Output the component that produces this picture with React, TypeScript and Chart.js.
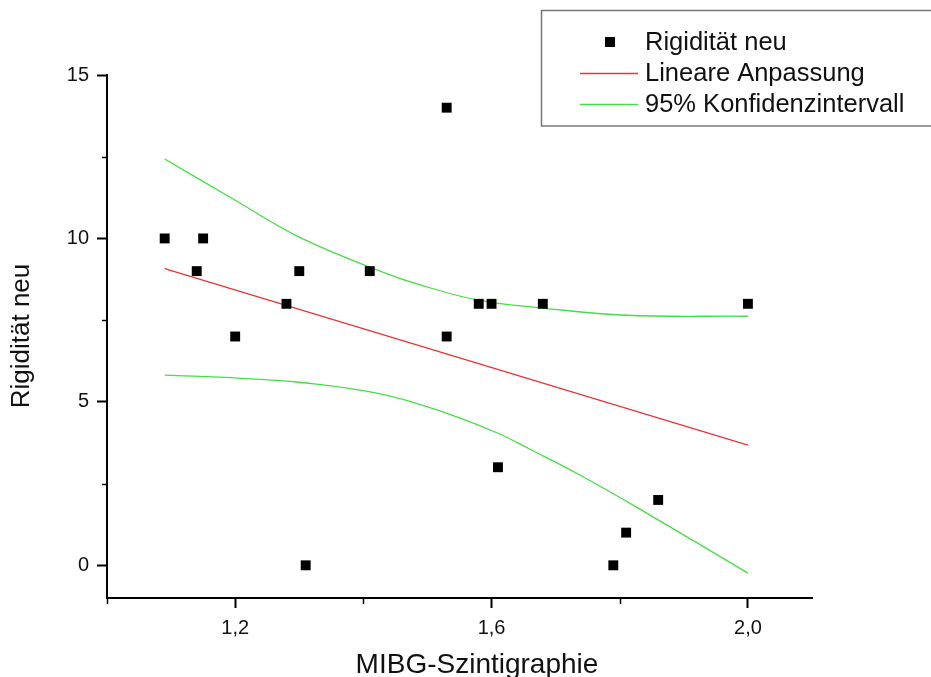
import React, { useEffect, useRef } from "react";
import { Chart, registerables } from "chart.js";

Chart.register(...registerables);

// ---- data ----
const mibg = [1.09, 1.14, 1.15, 1.2, 1.28, 1.3, 1.31, 1.41, 1.53, 1.53, 1.58, 1.6, 1.61, 1.68, 1.79, 1.81, 1.86, 2.0];
const rigiditaet = [10, 9, 10, 7, 8, 9, 0, 9, 14, 7, 8, 8, 3, 8, 0, 1, 2, 8];

const fitX = [1.09, 2.0];
const fitY = [9.08, 3.68];

const upperX = [1.09, 1.2, 1.3, 1.43, 1.49, 1.58, 1.68, 1.81, 2.0];
const upperY = [12.43, 11.17, 10.04, 8.97, 8.57, 8.11, 7.87, 7.65, 7.62];

const lowerX = [1.09, 1.21, 1.3, 1.43, 1.53, 1.61, 1.66, 1.74, 1.84, 2.0];
const lowerY = [5.82, 5.72, 5.6, 5.23, 4.65, 4.04, 3.55, 2.74, 1.62, -0.24];

const xTicks = [1.0, 1.2, 1.4, 1.6, 1.8, 2.0];
const xLabelled = [1.2, 1.6, 2.0];
const yTicks = [0, 2.5, 5, 7.5, 10, 12.5, 15];
const yLabelled = [0, 5, 10, 15];

const seriesLabels = ["Rigidität neu", "Lineare Anpassung", "95% Konfidenzintervall"];
const xTitle = "MIBG-Szintigraphie";
const yTitle = "Rigidität neu";

const FONT = "'Liberation Sans', Arial, sans-serif";
const RED = "rgb(232,52,52)";
const GREEN = "rgb(70,222,70)";

const toPts = (xs: number[], ys: number[]) => xs.map((x, i) => ({ x, y: ys[i] }));
const isIn = (arr: number[], v: number) => arr.some((a) => Math.abs(a - v) < 1e-6);

const overlayPlugin = {
  id: "overlay",
  afterDraw(chart: any) {
    const ctx = chart.ctx as CanvasRenderingContext2D;
    const xs = chart.scales.x;
    const ys = chart.scales.y;
    const area = chart.chartArea;
    ctx.save();
    // minor ticks
    ctx.strokeStyle = "#000";
    ctx.lineWidth = 1.5;
    xTicks.forEach((v) => {
      if (isIn(xLabelled, v)) return;
      const px = Math.round(xs.getPixelForValue(v)) + 0.5;
      ctx.beginPath();
      ctx.moveTo(px, area.bottom);
      ctx.lineTo(px, area.bottom + 6);
      ctx.stroke();
    });
    yTicks.forEach((v) => {
      if (isIn(yLabelled, v)) return;
      const py = Math.round(ys.getPixelForValue(v)) + 0.5;
      ctx.beginPath();
      ctx.moveTo(area.left, py);
      ctx.lineTo(area.left - 5, py);
      ctx.stroke();
    });

    // axis titles
    ctx.fillStyle = "#111";
    ctx.font = `28px ${FONT}`;
    ctx.textAlign = "center";
    ctx.textBaseline = "middle";
    ctx.fillText(xTitle, 477, 665);
    ctx.save();
    ctx.translate(22, 336);
    ctx.rotate(-Math.PI / 2);
    ctx.font = `26px ${FONT}`;
    ctx.fillText(yTitle, 0, 0);
    ctx.restore();

    // legend box
    ctx.fillStyle = "#fff";
    ctx.fillRect(541, 10, 400, 116);
    ctx.strokeStyle = "#777";
    ctx.lineWidth = 1.5;
    ctx.strokeRect(541.5, 10.5, 400, 115.5);
    const rows = [42, 73, 104];
    const ds = chart.data.datasets;
    ctx.textAlign = "left";
    ctx.font = `25.5px ${FONT}`;
    // row 1: marker
    ctx.fillStyle = "#000";
    ctx.fillRect(605, rows[0] - 5, 10, 10);
    // rows 2, 3: lines
    [1, 2].forEach((di, k) => {
      ctx.strokeStyle = ds[di].borderColor;
      ctx.lineWidth = 1.3;
      ctx.beginPath();
      ctx.moveTo(580, rows[k + 1] + 0.5);
      ctx.lineTo(638, rows[k + 1] + 0.5);
      ctx.stroke();
    });
    ctx.fillStyle = "#111";
    seriesLabels.forEach((t, i) => ctx.fillText(t, 645, rows[i] + 1));
    ctx.restore();
  },
};

export default function App() {
  const ref = useRef<HTMLCanvasElement | null>(null);
  useEffect(() => {
    if (!ref.current) return;
    const chart = new Chart(ref.current, {
      type: "scatter",
      data: {
        datasets: [
          {
            label: seriesLabels[0],
            data: toPts(mibg, rigiditaet),
            pointStyle: "rect",
            pointRadius: 7,
            pointBackgroundColor: "#000",
            pointBorderColor: "#000",
            pointBorderWidth: 0,
            showLine: false,
            order: 0,
          },
          {
            label: seriesLabels[1],
            data: toPts(fitX, fitY),
            showLine: true,
            borderColor: RED,
            borderWidth: 1.3,
            pointRadius: 0,
            order: 1,
          },
          {
            label: seriesLabels[2],
            data: toPts(upperX, upperY),
            showLine: true,
            borderColor: GREEN,
            borderWidth: 1.3,
            pointRadius: 0,
            tension: 0.4,
            order: 2,
          },
          {
            label: seriesLabels[2] + " ",
            data: toPts(lowerX, lowerY),
            showLine: true,
            borderColor: GREEN,
            borderWidth: 1.3,
            pointRadius: 0,
            tension: 0.4,
            order: 2,
          },
        ],
      },
      options: {
        animation: false,
        responsive: false,
        devicePixelRatio: 1,
        layout: { padding: { left: 0, top: 75, right: 119, bottom: 0 } },
        plugins: { legend: { display: false }, tooltip: { enabled: false } },
        scales: {
          x: {
            type: "linear",
            min: 1.0,
            max: 2.1,
            afterFit: (s: any) => {
              s.height = 79;
            },
            afterBuildTicks: (s: any) => {
              s.ticks = xTicks.map((v) => ({ value: v }));
            },
            border: { display: true, color: "#000", width: 2 },
            grid: {
              drawOnChartArea: false,
              drawTicks: true,
              tickLength: 10,
              tickWidth: 2,
              tickColor: (c: any) => (c.tick && isIn(xLabelled, c.tick.value) ? "#000" : "rgba(0,0,0,0)"),
            },
            ticks: {
              autoSkip: false,
              maxRotation: 0,
              padding: 8,
              color: "#111",
              font: { family: FONT, size: 20 },
              callback: (v: any) => (isIn(xLabelled, Number(v)) ? Number(v).toFixed(1).replace(".", ",") : ""),
            },
          },
          y: {
            type: "linear",
            min: -1,
            max: 15,
            afterFit: (s: any) => {
              s.width = 107;
            },
            afterBuildTicks: (s: any) => {
              s.ticks = yTicks.map((v) => ({ value: v }));
            },
            border: { display: true, color: "#000", width: 2 },
            grid: {
              drawOnChartArea: false,
              drawTicks: true,
              tickLength: 10,
              tickWidth: 2,
              tickColor: (c: any) => (c.tick && isIn(yLabelled, c.tick.value) ? "#000" : "rgba(0,0,0,0)"),
            },
            ticks: {
              autoSkip: false,
              padding: 8,
              color: "#111",
              font: { family: FONT, size: 20 },
              callback: (v: any) => (isIn(yLabelled, Number(v)) ? String(v) : ""),
            },
          },
        },
      },
      plugins: [overlayPlugin],
    });
    return () => chart.destroy();
  }, []);
  return (
    <div style={{ position: "absolute", left: 0, top: 0, width: 931, height: 677, background: "#fff" }}>
      <canvas ref={ref} width={931} height={677} style={{ width: 931, height: 677, display: "block" }} />
    </div>
  );
}
